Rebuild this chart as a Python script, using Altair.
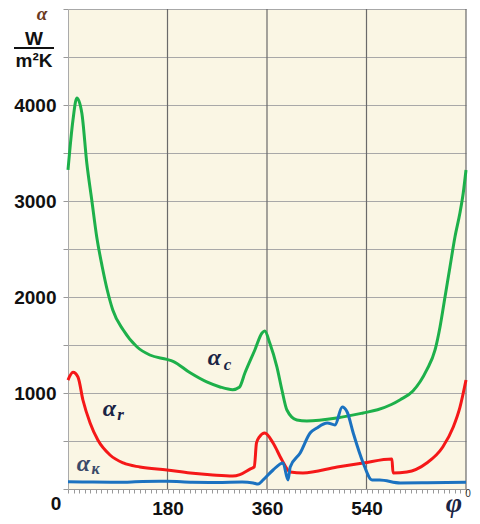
import altair as alt
import pandas as pd

# alpha_c (green)
ang_c = [0, 9, 16, 25, 34, 43, 52, 62, 71, 81, 100, 125, 148, 179, 190, 221, 251, 275, 298,
         310, 320, 338, 351, 356, 365, 378, 387, 396, 414, 432, 487, 534, 560, 585, 601, 624,
         649, 664, 673, 682, 691, 700, 709, 715, 720]
val_c = [3323, 3844, 4073, 3917, 3396, 3010, 2625, 2313, 2073, 1865, 1656, 1479, 1396, 1350,
         1330, 1210, 1115, 1063, 1035, 1060, 1208, 1448, 1625, 1646, 1520, 1270, 1031, 823, 719,
         708, 740, 792, 825, 880, 930, 1020, 1240, 1448, 1688, 2000, 2313, 2625, 2875, 3083, 3323]

# alpha_r (red)
ang_r = [0, 9, 18, 27, 40, 54, 76, 100, 130, 179, 221, 262, 298, 311, 330, 337, 341, 346,
         356, 371, 387, 402, 425, 487, 534, 586, 588, 613, 649, 678, 697, 709, 720]
val_r = [1135, 1215, 1167, 927, 688, 510, 354, 271, 229, 198, 167, 146, 135, 150, 210, 230,
         480, 540, 583, 479, 302, 177, 167, 229, 271, 312, 167, 177, 271, 438, 646, 850, 1135]

# alpha_K (blue)
ang_k = [0, 45, 90, 135, 180, 225, 270, 315, 335, 344, 353, 371, 389, 398, 402, 420, 438,
         450, 469, 483, 496, 505, 516, 534, 550, 564, 601, 650, 720]
val_k = [75, 72, 70, 78, 80, 70, 68, 72, 63, 52, 94, 198, 271, 94, 229, 375, 583, 635, 688,
         667, 854, 802, 583, 271, 94, 94, 63, 65, 70]

series_names = ["ac", "ar", "ak"]
series_colors = ["#1db04a", "#f51818", "#1b72c0"]

x_grid = [180, 360, 540, 720]
x_tick_labels = [180, 360, 540]
y_tick_labels = [1000, 2000, 3000, 4000]

rows = []
for name, angs, vals in zip(series_names, [ang_c, ang_r, ang_k], [val_c, val_r, val_k]):
    for a, v in zip(angs, vals):
        rows.append({"s": name, "ang": a, "val": v})
df = pd.DataFrame(rows)

xscale = alt.Scale(domain=[0, 720], nice=False, zero=False)
yscale = alt.Scale(domain=[0, 5000], nice=False)

lbl_x = " || ".join(f"datum.value == {v}" for v in x_tick_labels)
lbl_y = " || ".join(f"datum.value == {v}" for v in y_tick_labels)

x_axis = alt.Axis(
    values=list(range(0, 721, 10)), tickSize=4, tickColor="#999", domainColor="#999",
    grid=False, labelExpr=f"({lbl_x}) ? datum.label : ''", labelOverlap=False,
    labelFont="Liberation Sans", labelFontWeight="bold", labelFontSize=19, format="d",
    labelColor="#111", labelPadding=6, title=None)
y_axis = alt.Axis(
    values=list(range(0, 5001, 500)), tickSize=5, tickColor="#999", domainColor="#aaa",
    grid=True, gridColor="#a8a8a8", gridWidth=1, format="d",
    labelExpr=f"({lbl_y}) ? datum.label : ''", labelOverlap=False,
    labelFont="Liberation Sans", labelFontWeight="bold", labelFontSize=19,
    labelColor="#111", labelPadding=7, title=None)


def X(f):
    return alt.X(f, scale=xscale, axis=x_axis)


def Y(f):
    return alt.Y(f, scale=yscale, axis=y_axis)


lines = alt.Chart(df).mark_line(strokeWidth=3, interpolate="monotone").encode(
    x=X("ang:Q"), y=Y("val:Q"),
    color=alt.Color("s:N", scale=alt.Scale(domain=series_names, range=series_colors), legend=None),
    order=alt.Order("ang:Q"),
)

vgrid = alt.Chart(pd.DataFrame({"g": x_grid})).mark_rule(color="#6a6a6a", strokeWidth=1.2).encode(
    x=X("g:Q")
)

ann = pd.DataFrame({
    "ang": [265, 75, 28],
    "val": [1292, 760, 188],
    "t": ["α", "α", "α"],
    "sub": ["c", "r", "к"],
    "col": ["#1a2444", "#1a2444", "#3a4a6a"],
})
alpha_txt = alt.Chart(ann).mark_text(
    font="Liberation Serif", fontStyle="italic", fontWeight="bold", fontSize=24,
    align="center", baseline="alphabetic"
).encode(x=X("ang:Q"), y=Y("val:Q"), text="t:N", color=alt.Color("col:N", scale=None))
sub_c = alt.Chart(ann).transform_filter("datum.sub == 'c'").mark_text(
    font="Liberation Serif", fontStyle="italic", fontWeight="bold", fontSize=17,
    align="center", baseline="alphabetic", dx=13, dy=5
).encode(x=X("ang:Q"), y=Y("val:Q"), text="sub:N", color=alt.Color("col:N", scale=None))
sub_r = alt.Chart(ann).transform_filter("datum.sub == 'r'").mark_text(
    font="Liberation Serif", fontStyle="italic", fontWeight="bold", fontSize=17,
    align="center", baseline="alphabetic", dx=11, dy=4
).encode(x=X("ang:Q"), y=Y("val:Q"), text="sub:N", color=alt.Color("col:N", scale=None))
sub_k = alt.Chart(ann).transform_filter("datum.sub == 'к'").mark_text(
    font="Liberation Serif", fontStyle="italic", fontWeight="bold", fontSize=16,
    align="center", baseline="alphabetic", dx=12, dy=3
).encode(x=X("ang:Q"), y=Y("val:Q"), text="sub:N", color=alt.Color("col:N", scale=None))

zero_lbl = alt.Chart(pd.DataFrame({"a": [0], "v": [0], "t": ["0"]})).mark_text(
    font="Liberation Sans", fontWeight="bold", fontSize=19, color="#111",
    align="center", baseline="alphabetic", dx=-12, dy=21
).encode(x=X("a:Q"), y=Y("v:Q"), text="t:N")

phi = alt.Chart(pd.DataFrame({"a": [720], "v": [0], "t": ["φ"]})).mark_text(
    font="Liberation Serif", fontStyle="italic", fontWeight="bold", fontSize=28, color="#1a2444",
    align="center", baseline="alphabetic", dx=-12, dy=23
).encode(x=X("a:Q"), y=Y("v:Q"), text="t:N")
deg = alt.Chart(pd.DataFrame({"a": [720], "v": [0], "t": ["0"]})).mark_text(
    font="Liberation Sans", fontSize=10, color="#333",
    align="center", baseline="alphabetic", dx=2, dy=8
).encode(x=X("a:Q"), y=Y("v:Q"), text="t:N")

# y-axis unit title
t_alpha = alt.Chart(pd.DataFrame({"t": ["α"]})).mark_text(
    font="Liberation Serif", fontStyle="italic", fontWeight="bold", fontSize=19, color="#6b3a1e",
    align="center", baseline="alphabetic"
).encode(x=alt.value(-26), y=alt.value(11), text="t:N")
t_w = alt.Chart(pd.DataFrame({"t": ["W"]})).mark_text(
    font="Liberation Sans", fontWeight="bold", fontSize=19, color="#111",
    align="center", baseline="alphabetic"
).encode(x=alt.value(-34), y=alt.value(36), text="t:N")
t_line = alt.Chart(pd.DataFrame({"t": [1]})).mark_rule(color="#111", strokeWidth=2).encode(
    x=alt.value(-54), x2=alt.value(-14), y=alt.value(39))
t_m = alt.Chart(pd.DataFrame({"t": ["m²K"]})).mark_text(
    font="Liberation Sans", fontWeight="bold", fontSize=19, color="#111",
    align="center", baseline="alphabetic"
).encode(x=alt.value(-34), y=alt.value(58), text="t:N")

chart = alt.layer(
    vgrid, lines, alpha_txt, sub_c, sub_r, sub_k, zero_lbl, phi, deg, t_alpha, t_w, t_line, t_m
).properties(
    width=398, height=480,
    autosize=alt.AutoSizeParams(type="none"),
    padding={"left": 60, "top": 1, "right": 6, "bottom": 30},
).configure_view(fill="#faf6e4", stroke=None)

chart.save("out.html", embed_options={"renderer": "svg", "actions": False})
